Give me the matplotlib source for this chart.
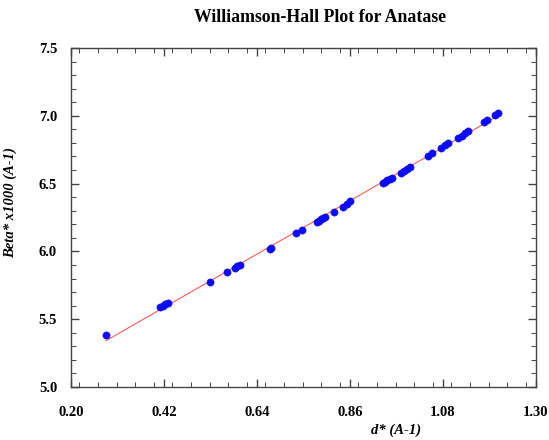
import numpy as np
import matplotlib
matplotlib.use("Agg")
import matplotlib.pyplot as plt
from matplotlib.ticker import MultipleLocator

# d* (A-1) and Beta* x1000 (A-1)
d_star = [0.283, 0.410, 0.417, 0.423, 0.429, 0.528, 0.568, 0.588, 0.593, 0.599,
          0.671, 0.674, 0.733, 0.747, 0.781, 0.786, 0.791, 0.796, 0.800, 0.823,
          0.843, 0.852, 0.860, 0.937, 0.943, 0.948, 0.955, 0.960, 0.980, 0.988,
          0.996, 1.002, 1.045, 1.055, 1.075, 1.084, 1.092, 1.116, 1.124, 1.132,
          1.140, 1.176, 1.184, 1.202, 1.211]
beta_star = [5.386, 5.588, 5.600, 5.610, 5.619, 5.777, 5.847, 5.880, 5.890, 5.902,
             6.020, 6.027, 6.133, 6.158, 6.217, 6.226, 6.237, 6.246, 6.256, 6.291,
             6.331, 6.351, 6.372, 6.502, 6.514, 6.524, 6.534, 6.544, 6.580, 6.595,
             6.610, 6.625, 6.706, 6.723, 6.765, 6.783, 6.799, 6.838, 6.853, 6.871,
             6.888, 6.957, 6.971, 7.006, 7.023]

x_ticks = [0.20, 0.42, 0.64, 0.86, 1.08, 1.30]
y_ticks = [5.0, 5.5, 6.0, 6.5, 7.0, 7.5]

plt.rcParams['font.family'] = ['Liberation Serif', 'DejaVu Serif']

fig = plt.figure(figsize=(5.49, 4.40), dpi=100)
ax = fig.add_axes([71 / 549, 53 / 440, 465 / 549, 339 / 440])

# linear fit through the points
slope, icpt = np.polyfit(d_star, beta_star, 1)
xf = np.array([min(d_star), max(d_star)])
ax.plot(xf, icpt + slope * xf, color='#ff5a5a', lw=0.8, zorder=2)
ax.plot(d_star, beta_star, 'o', color='#0a0aff', ms=5.2, mec='#1010d0', mew=0.4, zorder=3)

ax.set_xlim(0.20, 1.30)
ax.set_ylim(5.0, 7.5)
ax.set_xticks(x_ticks)
ax.set_yticks(y_ticks)
ax.set_xticklabels(["%.2f" % v for v in x_ticks])
ax.set_yticklabels(["%.1f" % v for v in y_ticks])
ax.xaxis.set_minor_locator(MultipleLocator(0.044))
ax.yaxis.set_minor_locator(MultipleLocator(0.1))

for s in ax.spines.values():
    s.set_color('#444444')
    s.set_linewidth(1.0)

ax.tick_params(which='both', direction='in', colors='#444444', labelcolor='black',
               top=True, right=True)
ax.tick_params(which='major', length=6, width=1.0, labelsize=10.5, pad=14)
ax.tick_params(which='minor', length=3.5, width=0.7)
ax.tick_params(axis='y', which='major', pad=10)
for lab in ax.get_xticklabels() + ax.get_yticklabels():
    lab.set_fontweight('bold')

ax.set_xlabel("d* (A-1)", fontsize=10.5, fontweight='bold', fontstyle='italic', labelpad=2)
ax.xaxis.set_label_coords(0.698, -0.108)
ax.set_ylabel("Beta* x1000 (A-1)", fontsize=10.5, fontweight='bold', fontstyle='italic')
ax.yaxis.set_label_coords(-0.115, 0.545)

fig.text(320 / 549, 1 - 18 / 440, "Williamson-Hall Plot for Anatase", ha='center', va='center',
         fontsize=12.8, fontweight='bold')

fig.savefig("out.png", dpi=100)
